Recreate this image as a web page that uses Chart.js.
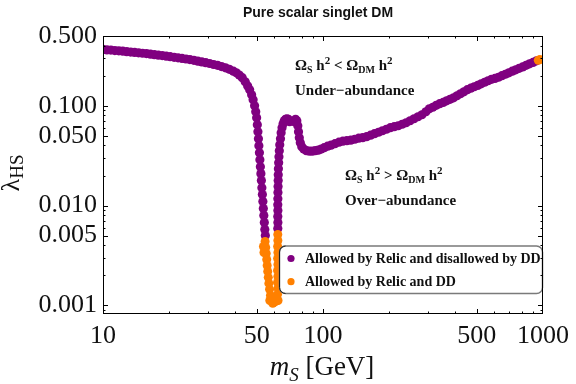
<!DOCTYPE html>
<html>
<head>
<meta charset="utf-8">
<script src="https://cdn.jsdelivr.net/npm/chart.js@4.4.0/dist/chart.umd.min.js"></script>
<style>
    html, body { margin: 0; padding: 0; background: #ffffff; }
    canvas { display: block; }
</style>
</head>
<body>
<canvas id="chartSinglete" width="576" height="384"></canvas>
<script>
// Datos: masa m_S [GeV] y acoplamiento lambda_HS

// Permitido por reliquia y excluido por detección directa (morado)
const excludedMass = [
    10.00, 10.42, 10.86, 11.32, 11.80, 12.30, 12.82, 13.36, 13.92, 14.51,
    15.12, 15.76, 16.43, 17.12, 17.84, 18.59, 19.38, 20.20, 21.05, 21.94,
    22.86, 23.83, 24.83, 25.88, 26.97, 28.11, 29.30, 30.53, 31.82, 33.16,
    34.56, 36.03, 37.54, 39.13, 40.36, 41.63, 42.95, 44.30, 45.46, 46.41,
    47.38, 48.12, 48.87,
    49.46, 49.93, 50.29, 50.60, 50.87, 51.12, 51.40, 51.66, 51.92, 52.20,
    52.48, 52.74, 53.01, 53.29, 53.56, 53.84, 54.12, 54.39, 54.68,
    62.30, 62.35, 62.30, 62.35, 62.30, 62.35, 62.40, 62.50, 62.55, 62.60,
    62.70, 62.87, 63.06, 63.30, 63.60, 64.07, 64.52, 65.13, 65.87, 66.69,
    67.60, 68.58, 69.58, 70.52,
    74.10, 75.03, 76.03, 76.82, 77.39, 78.03, 78.85, 80.07, 81.75, 84.06,
    86.71, 89.43, 92.25, 95.16, 98.15, 101.3, 105.0, 108.8, 113.4, 118.2,
    123.2, 128.4, 133.8, 139.5, 145.4, 151.5, 157.9, 164.6, 171.5, 178.8,
    186.3, 194.2, 202.4, 210.9, 219.8, 229.1, 238.7, 248.8, 259.3, 270.3,
    281.7, 293.6, 304.3, 315.6, 327.2, 339.3, 351.8, 364.7, 378.1, 392.2,
    406.5, 421.5, 437.0, 453.2, 469.8, 487.1, 505.0, 523.6, 542.9, 562.9,
    583.6, 605.2, 627.5, 650.7, 674.5, 699.5, 725.1, 751.8, 779.6, 808.3,
    838.1, 869.0, 901.0, 934.2
];
const excludedLambda = [
    0.367, 0.363, 0.361, 0.357, 0.355, 0.352, 0.348, 0.345, 0.342, 0.339,
    0.336, 0.333, 0.329, 0.325, 0.321, 0.318, 0.314, 0.310, 0.306, 0.302,
    0.298, 0.294, 0.290, 0.285, 0.280, 0.275, 0.270, 0.265, 0.259, 0.254,
    0.247, 0.240, 0.232, 0.222, 0.214, 0.203, 0.191, 0.174, 0.158, 0.145,
    0.129, 0.115, 0.100,
    0.0871, 0.0759, 0.0646, 0.0550, 0.0468, 0.0398, 0.0339, 0.0288, 0.0245, 0.0209,
    0.0178, 0.0151, 0.0129, 0.0110, 0.00933, 0.00794, 0.00676, 0.00575, 0.00501,
    0.00589, 0.00676, 0.00776, 0.00891, 0.0102, 0.0117, 0.0135, 0.0155, 0.0178, 0.0204,
    0.0234, 0.0269, 0.0309, 0.0355, 0.0407, 0.0468, 0.0537, 0.0603, 0.0661, 0.0708,
    0.0733, 0.0741, 0.0733, 0.0692,
    0.0692, 0.0733, 0.0708, 0.0631, 0.0550, 0.0479, 0.0427, 0.0389, 0.0368, 0.0355,
    0.0351, 0.0351, 0.0355, 0.0359, 0.0368, 0.0380, 0.0394, 0.0403, 0.0417, 0.0432,
    0.0442, 0.0447, 0.0452, 0.0462, 0.0473, 0.0479, 0.0490, 0.0507, 0.0525, 0.0543,
    0.0562, 0.0582, 0.0603, 0.0617, 0.0631, 0.0653, 0.0676, 0.0708, 0.0741, 0.0776,
    0.0813, 0.0871, 0.0933, 0.0966, 0.101, 0.105, 0.108, 0.112, 0.116, 0.120,
    0.126, 0.132, 0.138, 0.145, 0.150, 0.155, 0.160, 0.166, 0.172, 0.178,
    0.184, 0.188, 0.193, 0.200, 0.207, 0.214, 0.222, 0.229, 0.237, 0.245,
    0.254, 0.263, 0.272, 0.282
];

// Permitido por reliquia y por detección directa (naranja)
const allowedMass = [
    54.55, 54.90, 55.19, 55.48, 55.76, 56.06, 56.39, 56.75, 57.16, 57.69,
    58.53, 59.76, 61.01, 53.62, 53.90, 57.30, 59.10,
    62.48, 62.15, 62.40, 62.10, 62.35, 62.15, 62.40, 62.20, 62.40, 62.20,
    62.35, 62.30,
    952.0, 968.0
];
const allowedLambda = [
    0.00437, 0.00380, 0.00331, 0.00288, 0.00251, 0.00219, 0.00191, 0.00166, 0.00145, 0.00126,
    0.00112, 0.00107, 0.00110, 0.00389, 0.00339, 0.00112, 0.00105,
    0.00112, 0.00129, 0.00148, 0.00170, 0.00195, 0.00224, 0.00257, 0.00295, 0.00339, 0.00389,
    0.00447, 0.00513,
    0.286, 0.290
];

// Marcas con etiqueta
const xTickLabels = [10, 50, 100, 500, 1000];
const yTickLabels = [0.001, 0.005, 0.01, 0.05, 0.1, 0.5];

const legendLabels = ['Allowed by Relic and disallowed by DD', 'Allowed by Relic and DD'];
const titleText = 'Pure scalar singlet DM';

const PURPLE = '#800080';
const ORANGE = '#ff8000';
const SERIF = "'Liberation Serif', 'DejaVu Serif', serif";

function toPoints(xs, ys) {
    return xs.map((x, i) => ({ x: x, y: ys[i] }));
}

function isLabelled(value, list) {
    return list.some(t => Math.abs(Math.log10(value / t)) < 1e-6);
}

function isWholeSignificand(value) {
    const s = value / Math.pow(10, Math.floor(Math.log10(value) + 1e-9));
    return Math.abs(s - Math.round(s)) < 1e-6;
}

// Texto con subíndices / superíndices: [texto, fuente, desplazamiento]
function drawRich(ctx, parts, x, y, align) {
    let total = 0;
    parts.forEach(p => { ctx.font = p[1]; total += ctx.measureText(p[0]).width; });
    let cx = align === 'center' ? x - total / 2 : x;
    parts.forEach(p => {
        ctx.font = p[1];
        ctx.fillText(p[0], cx, y + (p[2] || 0));
        cx += ctx.measureText(p[0]).width;
    });
}

// Marco con marcas hacia adentro, leyenda y anotaciones
const framePlugin = {
    id: 'framePlugin',
    afterDatasetsDraw(chart) {
        const { ctx, chartArea: a, scales } = chart;
        ctx.save();

        // Caja de leyenda (tapa los puntos que quedan debajo)
        const lx = 279.5, ly = 246, lw = a.right - 279.5 - 0.5, lh = 47.5;
        ctx.beginPath();
        ctx.roundRect(lx, ly, lw, lh, 6);
        ctx.fillStyle = '#ffffff';
        ctx.fill();
        ctx.lineWidth = 1.5;
        ctx.strokeStyle = '#7a7a7a';
        ctx.stroke();
        ctx.beginPath();
        ctx.moveTo(lx + 6, ly);
        ctx.arcTo(lx, ly, lx, ly + 6, 6);
        ctx.lineTo(lx, ly + lh - 6);
        ctx.arcTo(lx, ly + lh, lx + 6, ly + lh, 6);
        ctx.lineWidth = 1;
        ctx.strokeStyle = '#222222';
        ctx.stroke();

        const colors = [PURPLE, ORANGE];
        legendLabels.forEach((label, i) => {
            const cy = 258.5 + i * 23.2;
            ctx.beginPath();
            ctx.arc(291, cy, 3.6, 0, Math.PI * 2);
            ctx.fillStyle = colors[i];
            ctx.fill();
            ctx.fillStyle = '#111111';
            ctx.font = 'bold 14px ' + SERIF;
            ctx.textBaseline = 'middle';
            ctx.textAlign = 'left';
            ctx.fillText(label, 305, cy + 1);
        });

        // Marco
        ctx.strokeStyle = '#000000';
        ctx.lineWidth = 1;
        ctx.strokeRect(a.left + 0.5, a.top + 0.5, a.right - a.left - 1, a.bottom - a.top - 1);

        // Marcas en x (abajo y arriba)
        scales.x.ticks.forEach(t => {
            const v = t.value;
            if (!isWholeSignificand(v)) return;
            const px = Math.round(scales.x.getPixelForValue(v)) + 0.5;
            if (px <= a.left + 1 || px >= a.right - 1) return;
            const len = isLabelled(v, xTickLabels) ? 5 : 2.5;
            ctx.beginPath();
            ctx.moveTo(px, a.bottom);
            ctx.lineTo(px, a.bottom - len);
            ctx.moveTo(px, a.top);
            ctx.lineTo(px, a.top + len);
            ctx.stroke();
        });

        // Marcas en y (izquierda y derecha)
        scales.y.ticks.forEach(t => {
            const v = t.value;
            if (!isWholeSignificand(v)) return;
            const py = Math.round(scales.y.getPixelForValue(v)) + 0.5;
            if (py <= a.top + 1 || py >= a.bottom - 1) return;
            const len = isLabelled(v, yTickLabels) ? 5 : 2.5;
            ctx.beginPath();
            ctx.moveTo(a.left, py);
            ctx.lineTo(a.left + len, py);
            ctx.moveTo(a.right, py);
            ctx.lineTo(a.right - len, py);
            ctx.stroke();
        });
        ctx.restore();
    },
    afterDraw(chart) {
        const { ctx } = chart;
        ctx.save();
        ctx.fillStyle = '#111111';
        ctx.textBaseline = 'alphabetic';
        ctx.textAlign = 'left';

        // Título
        ctx.font = "bold 14px 'Liberation Sans', Arial, sans-serif";
        ctx.textAlign = 'center';
        ctx.fillText(titleText, 318, 17);
        ctx.textAlign = 'left';

        // Anotaciones de abundancia
        const b15 = 'bold 15px ' + SERIF;
        const b10 = 'bold 10px ' + SERIF;
        const b11 = 'bold 11px ' + SERIF;
        drawRich(ctx, [['Ω', b15], ['S', b10, 3], [' h', b15], ['2', b11, -6], [' < Ω', b15], ['DM', b10, 3], [' h', b15], ['2', b11, -6]], 295, 70);
        ctx.font = b15;
        ctx.fillText('Under\u2212abundance', 295, 95);
        drawRich(ctx, [['Ω', b15], ['S', b10, 3], [' h', b15], ['2', b11, -6], [' > Ω', b15], ['DM', b10, 3], [' h', b15], ['2', b11, -6]], 345, 180);
        ctx.font = b15;
        ctx.fillText('Over\u2212abundance', 345, 205);

        // Título eje x
        drawRich(ctx, [['m', 'italic 27px ' + SERIF], ['S', 'italic 19px ' + SERIF, 6], [' [GeV]', '27px ' + SERIF]], 322, 375, 'center');

        // Título eje y
        ctx.translate(19, 173);
        ctx.rotate(-Math.PI / 2);
        drawRich(ctx, [['λ', '26px ' + SERIF], ['HS', '19px ' + SERIF, 4]], 0, 0, 'center');
        ctx.restore();
    }
};

const ctx = document.getElementById('chartSinglete');

const chart = new Chart(ctx, {
    type: 'scatter',
    data: {
        datasets: [
            {
                label: legendLabels[1],
                data: toPoints(allowedMass, allowedLambda),
                backgroundColor: ORANGE,
                borderWidth: 0,
                pointRadius: 4.5,
                order: 0
            },
            {
                label: legendLabels[0],
                data: toPoints(excludedMass, excludedLambda),
                backgroundColor: PURPLE,
                borderWidth: 0,
                pointRadius: 4.6,
                order: 1
            }
        ]
    },
    options: {
        responsive: false,
        animation: false,
        layout: { padding: { top: 36, right: 28, left: 0, bottom: 0 } },
        plugins: {
            legend: { display: false },
            title: { display: false },
            tooltip: { enabled: false }
        },
        scales: {
            x: {
                type: 'logarithmic',
                min: 10,
                max: 1000,
                grid: { display: false, drawTicks: false },
                border: { display: false },
                afterFit(scale) { scale.height = 70; },
                ticks: {
                    autoSkip: false,
                    maxRotation: 0,
                    padding: 7,
                    color: '#111111',
                    font: { family: SERIF, size: 26 },
                    callback: function(value) {
                        return isLabelled(value, xTickLabels) ? String(Math.round(value)) : '';
                    }
                }
            },
            y: {
                type: 'logarithmic',
                min: 0.00082,
                max: 0.5,
                grid: { display: false, drawTicks: false },
                border: { display: false },
                afterFit(scale) { scale.width = 103; },
                ticks: {
                    autoSkip: false,
                    padding: 6,
                    color: '#111111',
                    font: { family: SERIF, size: 26 },
                    callback: function(value) {
                        return isLabelled(value, yTickLabels) ? value.toFixed(3) : '';
                    }
                }
            }
        }
    },
    plugins: [framePlugin]
});
</script>
</body>
</html>
